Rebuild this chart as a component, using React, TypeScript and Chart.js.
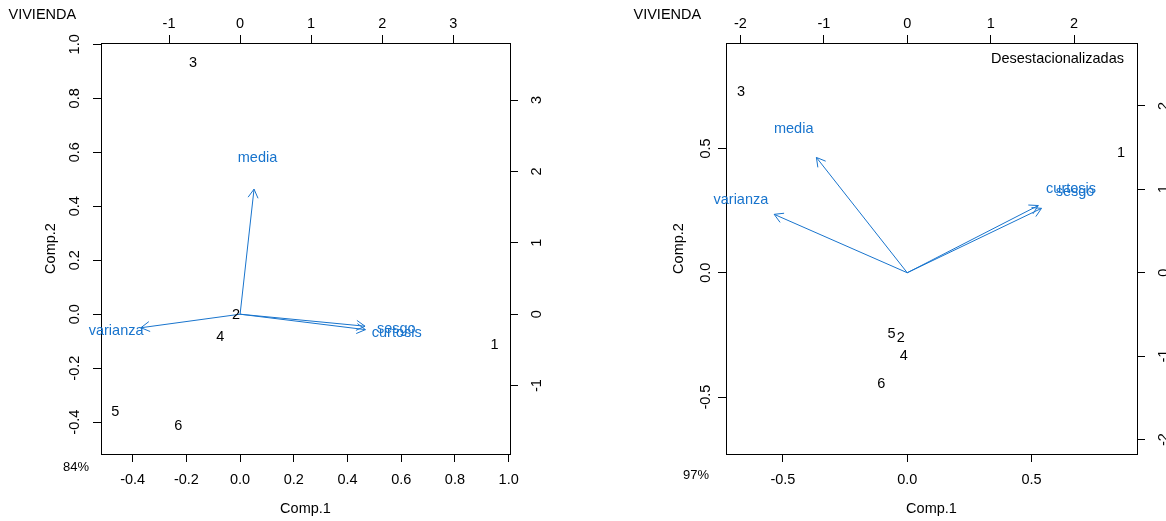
import React, { useEffect, useRef } from "react";
import { Chart, registerables } from "chart.js";

Chart.register(...registerables);

// ---------- data ----------
const obsLabels = ["1", "2", "3", "4", "5", "6"];
const varLabels = ["media", "varianza", "sesgo", "curtosis"];

// Panel 1 (84%)
const p1ScoreX = [0.947, -0.015, -0.175, -0.074, -0.465, -0.23];
const p1ScoreY = [-0.115, -0.004, 0.932, -0.086, -0.364, -0.414];
const p1LoadX = [0.245, -1.745, 2.198, 2.205];
const p1LoadY = [2.19, -0.237, -0.21, -0.27];
const p1Lim = [-0.518, 1.005];
const p1Ratio = 3.78;
const p1ScoreTicks = [-0.4, -0.2, 0, 0.2, 0.4, 0.6, 0.8, 1.0];
const p1LoadTicks = [-1, 0, 1, 2, 3];

// Panel 2 (97%, Desestacionalizadas)
const p2ScoreX = [0.86, -0.026, -0.669, -0.014, -0.063, -0.104];
const p2ScoreY = [0.4815, -0.263, 0.728, -0.334, -0.245, -0.4465];
const p2LoadX = [-1.361, -1.994, 2.011, 1.963];
const p2LoadY = [1.727, 0.875, 0.965, 1.007];
const p2Lim = [-0.729, 0.924];
const p2Ratio = 2.98;
const p2ScoreTicks = [-0.5, 0, 0.5];
const p2LoadTicks = [-2, -1, 0, 1, 2];

const title = "VIVIENDA";
const xTitle = "Comp.1";
const yTitle = "Comp.2";

// ---------- styling ----------
const FONT = '"Liberation Sans", Arial, Helvetica, sans-serif';
const BLUE = "#1874CD";
const TICK_LEN = 8;

type Panel = {
  scoreX: number[];
  scoreY: number[];
  loadX: number[];
  loadY: number[];
  lim: number[];
  ratio: number;
  scoreTicks: number[];
  loadTicks: number[];
  pct: string;
  pctDx: number;
  pctDy: number;
  yLabOff: number;
  yTitleOff: number;
  legend?: string;
  padding: { left: number; right: number; top: number; bottom: number };
};

const panel1: Panel = {
  scoreX: p1ScoreX,
  scoreY: p1ScoreY,
  loadX: p1LoadX,
  loadY: p1LoadY,
  lim: p1Lim,
  ratio: p1Ratio,
  scoreTicks: p1ScoreTicks,
  loadTicks: p1LoadTicks,
  pct: "84%",
  pctDx: -25,
  pctDy: 13,
  yLabOff: 26,
  yTitleOff: 50,
  padding: { left: 101 - TICK_LEN, right: 583 - 510 - TICK_LEN, top: 43 - TICK_LEN, bottom: 521 - 454 - TICK_LEN },
};

const panel2: Panel = {
  scoreX: p2ScoreX,
  scoreY: p2ScoreY,
  loadX: p2LoadX,
  loadY: p2LoadY,
  lim: p2Lim,
  ratio: p2Ratio,
  scoreTicks: p2ScoreTicks,
  loadTicks: p2LoadTicks,
  pct: "97%",
  pctDx: -30,
  pctDy: 21,
  yLabOff: 20,
  yTitleOff: 47,
  legend: "Desestacionalizadas",
  padding: { left: 143 - TICK_LEN, right: 583 - 554 - TICK_LEN, top: 43 - TICK_LEN, bottom: 521 - 454 - TICK_LEN },
};

function axis(position: string, axisId: string, lim: number[], ticks: number[]) {
  return {
    type: "linear",
    axis: axisId,
    position,
    min: lim[0],
    max: lim[1],
    afterBuildTicks: (s: any) => {
      s.ticks = ticks.map((v) => ({ value: v }));
    },
    grid: {
      display: true,
      drawOnChartArea: false,
      drawTicks: true,
      tickLength: TICK_LEN,
      color: "#000",
      lineWidth: 1,
    },
    border: { display: true, color: "#000", width: 1 },
    ticks: { display: false },
  };
}

function rot(ctx: CanvasRenderingContext2D, text: string, x: number, y: number) {
  ctx.save();
  ctx.translate(x, y);
  ctx.rotate(-Math.PI / 2);
  ctx.textAlign = "center";
  ctx.textBaseline = "middle";
  ctx.fillText(text, 0, 0);
  ctx.restore();
}

function makePlugin(p: Panel) {
  return {
    id: "rbiplot",
    afterDraw(chart: any) {
      const ctx: CanvasRenderingContext2D = chart.ctx;
      const { left, right, top, bottom } = chart.chartArea;
      const sx = chart.scales.x;
      const sy = chart.scales.y;
      const sx2 = chart.scales.x2;
      const sy2 = chart.scales.y2;
      ctx.save();
      ctx.fillStyle = "#000";
      ctx.font = `14.5px ${FONT}`;
      ctx.textAlign = "center";
      ctx.textBaseline = "middle";

      // tick labels
      p.scoreTicks.forEach((v) => ctx.fillText(v.toFixed(1), sx.getPixelForValue(v), bottom + 26));
      p.loadTicks.forEach((v) => ctx.fillText(String(v), sx2.getPixelForValue(v), top - 19));
      p.scoreTicks.forEach((v) => rot(ctx, v.toFixed(1), left - p.yLabOff, sy.getPixelForValue(v)));
      p.loadTicks.forEach((v) => rot(ctx, String(v), right + 27, sy2.getPixelForValue(v)));

      // axis titles
      ctx.fillText(xTitle, (left + right) / 2, bottom + 55);
      rot(ctx, yTitle, left - p.yTitleOff, (top + bottom) / 2);

      // title
      ctx.textAlign = "left";
      ctx.fillText(title, left - 92.5, 15);

      // percent
      ctx.font = `13px ${FONT}`;
      ctx.textAlign = "center";
      ctx.fillText(p.pct, left + p.pctDx, bottom + p.pctDy);

      // legend
      if (p.legend) {
        ctx.font = `14.5px ${FONT}`;
        ctx.textAlign = "right";
        ctx.fillText(p.legend, right - 13, top + 16);
      }

      // observation labels
      ctx.font = `14.5px ${FONT}`;
      ctx.textAlign = "center";
      ctx.fillStyle = "#000";
      const obsMeta = chart.getDatasetMeta(0);
      obsMeta.data.forEach((el: any, i: number) => ctx.fillText(obsLabels[i], el.x, el.y));

      // arrow heads
      ctx.strokeStyle = BLUE;
      ctx.lineWidth = 1;
      const L = 10;
      const A = Math.PI / 6;
      for (let k = 0; k < varLabels.length; k++) {
        const m = chart.getDatasetMeta(1 + k);
        const o = m.data[0];
        const t = m.data[1];
        const ang = Math.atan2(t.y - o.y, t.x - o.x);
        ctx.beginPath();
        ctx.moveTo(t.x - L * Math.cos(ang - A), t.y - L * Math.sin(ang - A));
        ctx.lineTo(t.x, t.y);
        ctx.lineTo(t.x - L * Math.cos(ang + A), t.y - L * Math.sin(ang + A));
        ctx.stroke();
      }

      // variable labels
      ctx.fillStyle = BLUE;
      const varMeta = chart.getDatasetMeta(1 + varLabels.length);
      varMeta.data.forEach((el: any, i: number) => ctx.fillText(varLabels[i], el.x, el.y));

      ctx.restore();
    },
  };
}

function PanelChart({ p, x }: { p: Panel; x: number }) {
  const ref = useRef<HTMLCanvasElement | null>(null);
  useEffect(() => {
    if (!ref.current) return;
    const loadLim = [p.lim[0] * p.ratio, p.lim[1] * p.ratio];
    const datasets: any[] = [];
    datasets.push({
      label: "obs",
      data: p.scoreX.map((v, i) => ({ x: v, y: p.scoreY[i] })),
      xAxisID: "x",
      yAxisID: "y",
      pointRadius: 0,
      showLine: false,
    });
    varLabels.forEach((name, k) => {
      datasets.push({
        label: name,
        data: [
          { x: 0, y: 0 },
          { x: 0.8 * p.loadX[k], y: 0.8 * p.loadY[k] },
        ],
        xAxisID: "x2",
        yAxisID: "y2",
        showLine: true,
        borderColor: BLUE,
        borderWidth: 1,
        pointRadius: 0,
        fill: false,
      });
    });
    datasets.push({
      label: "vars",
      data: p.loadX.map((v, i) => ({ x: v, y: p.loadY[i] })),
      xAxisID: "x2",
      yAxisID: "y2",
      pointRadius: 0,
      showLine: false,
    });
    const chart = new Chart(ref.current, {
      type: "scatter",
      data: { datasets },
      options: {
        animation: false,
        responsive: false,
        devicePixelRatio: 1,
        events: [],
        layout: { padding: p.padding },
        plugins: {
          legend: { display: false },
          tooltip: { enabled: false },
          title: { display: false },
        },
        scales: {
          x: axis("bottom", "x", p.lim, p.scoreTicks),
          y: axis("left", "y", p.lim, p.scoreTicks),
          x2: axis("top", "x", loadLim, p.loadTicks),
          y2: axis("right", "y", loadLim, p.loadTicks),
        },
      } as any,
      plugins: [makePlugin(p)],
    });
    return () => chart.destroy();
  }, [p]);
  return (
    <canvas
      ref={ref}
      width={583}
      height={521}
      style={{ position: "absolute", left: x, top: 0, width: 583, height: 521 }}
    />
  );
}

export default function App() {
  return (
    <div
      style={{
        position: "fixed",
        left: 0,
        top: 0,
        width: 1166,
        height: 521,
        background: "#fff",
        overflow: "hidden",
      }}
    >
      <PanelChart p={panel1} x={0} />
      <PanelChart p={panel2} x={583} />
    </div>
  );
}
